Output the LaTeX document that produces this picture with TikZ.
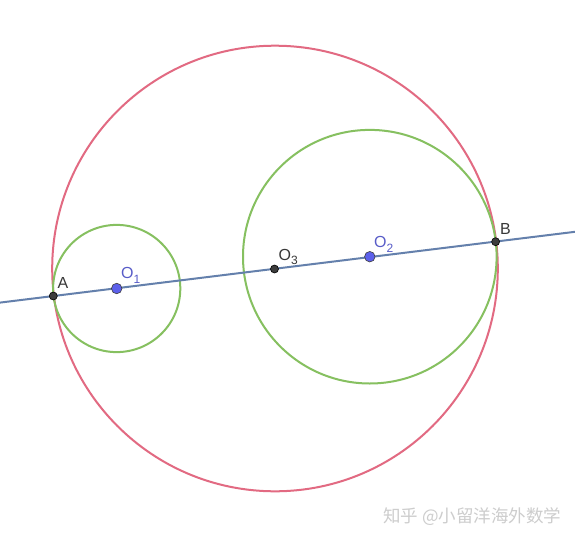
\documentclass[tikz,border=0pt]{standalone}
\usepackage{fontspec}
\setmainfont{Liberation Sans}
\newfontfamily\cjkfont{Noto Sans CJK SC}
\definecolor{redc}{RGB}{226,106,130}
\definecolor{greenc}{RGB}{134,192,96}
\definecolor{linec}{RGB}{100,128,172}
\definecolor{bluept}{RGB}{92,96,235}
\definecolor{blabel}{RGB}{88,92,200}
\definecolor{darkpt}{RGB}{60,60,60}
\definecolor{wm}{RGB}{205,205,205}
\newcommand{\subsc}[1]{\raisebox{-4.5pt}{\fontsize{12}{13}\selectfont #1}}
\tikzset{
  ptdark/.style={circle,fill=darkpt,draw=black,line width=0.6pt,inner sep=0pt,minimum size=8pt},
  ptblue/.style={circle,fill=bluept,draw=darkpt,line width=0.6pt,inner sep=0pt,minimum size=10.5pt},
  lbl/.style={font=\fontsize{16}{18}\selectfont,inner sep=0pt,text=black!78},
  blbl/.style={font=\fontsize{16}{18}\selectfont,inner sep=0pt,text=blabel},
}
\begin{document}
\begin{tikzpicture}[x=1pt,y=-1pt]
\useasboundingbox (0,0) rectangle (575,543);
\fill[white] (0,0) rectangle (575,543);
% circles
\draw[redc,line width=2pt] (275,268.5) circle (222.8pt);
\draw[greenc,line width=2pt] (116.7,288.5) circle (63.6pt);
\draw[greenc,line width=2pt] (369.8,256.7) circle (126.8pt);
% line
\coordinate (L) at (0,302.6);
\coordinate (R) at (575,231.8);
\draw[linec,line width=2pt] (L) -- (R);
% points
\node[ptdark] (A) at (53.3,296) {};
\node[ptdark] (B) at (495.6,241.7) {};
\node[ptdark] (O3) at (274.5,269) {};
\node[ptblue] (O1) at (116.7,288.5) {};
\node[ptblue] (O2) at (369.8,256.7) {};
% labels
\node[lbl,anchor=base west] (lA) at (57.5,288.5) {A};
\node[blbl,anchor=base west] (lO1) at (121,278.5) {O\subsc{1}};
\node[lbl,anchor=base west] (lO3) at (278.5,260) {O\subsc{3}};
\node[blbl,anchor=base west] (lO2) at (374,247.5) {O\subsc{2}};
\node[lbl,anchor=base west] (lB) at (500,234) {B};
% watermark
\node[anchor=west,inner sep=0pt,text=wm,font=\cjkfont\fontsize{17.5}{19}\selectfont] (wmk) at (383,517) {知乎 @小留洋海外数学};
\end{tikzpicture}
\end{document}
